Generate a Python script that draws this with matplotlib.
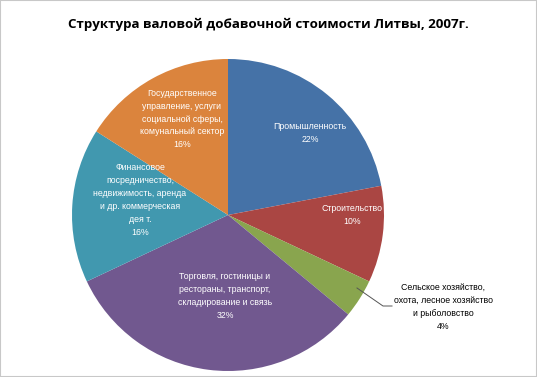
import matplotlib
matplotlib.use('Agg')
import matplotlib.pyplot as plt
from matplotlib.patches import Rectangle

sectors = ['Промышленность', 'Строительство',
           'Сельское хозяйство,\nохота, лесное хозяйство\nи рыболовство',
           'Торговля, гостиницы и\nрестораны, транспорт,\nскладирование и связь',
           'Финансовое\nпосредничество,\nнедвижимость, аренда\nи др. коммерческая\nдея т.',
           'Государственное\nуправление, услуги\nсоциальной сферы,\nкомунальный сектор']
shares = [22, 10, 4, 32, 16, 16]
colors = ['#4572A7', '#AA4643', '#89A54E', '#71588F', '#4198AF', '#DB843D']

W, H = 537, 377
cx, cy, r = 228, 215, 156

fig = plt.figure(figsize=(W / 100, H / 100), dpi=100)
fig.patches.append(Rectangle((0, 0), 1, 1, transform=fig.transFigure, fill=False,
                             edgecolor='#c8c8c8', linewidth=1.5))
ax = fig.add_axes([(cx - r) / W, (H - cy - r) / H, 2 * r / W, 2 * r / H])
ax.pie(shares, colors=colors, startangle=90, counterclock=False,
       wedgeprops=dict(linewidth=0))
ax.set_xlim(-1, 1)
ax.set_ylim(-1, 1)
ax.set_aspect('auto')


def px(x, y):
    return (x - cx) / r, (cy - y) / r


# label centres in pixels
label_pos = [(310, 133), (352, 215), (443, 307), (225, 296), (140, 200), (182, 119)]
font = 'Liberation Sans'
for i, (name, val) in enumerate(zip(sectors, shares)):
    x, y = px(*label_pos[i])
    col = 'black' if i == 2 else 'white'
    ax.text(x, y, f'{name}\n{val}%', ha='center', va='center', fontsize=6.3,
            color=col, family=font, linespacing=1.55, clip_on=False)

# leader line for the small slice
lx = [px(357, 288)[0], px(383, 306)[0], px(392, 306)[0]]
ly = [px(357, 288)[1], px(383, 306)[1], px(392, 306)[1]]
ax.plot(lx, ly, color='#555555', linewidth=0.7, clip_on=False)

fig.text(0.5, 1 - 24 / H, 'Структура валовой добавочной стоимости Литвы, 2007г.',
         ha='center', va='center', fontsize=9.6, fontweight='bold', family='Open Sans')

fig.savefig('out.png', dpi=100)
